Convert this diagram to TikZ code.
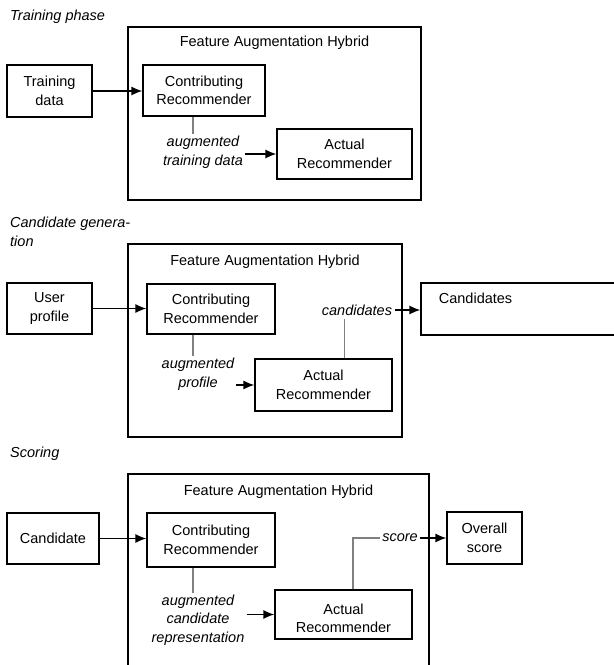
\documentclass[tikz,border=0pt]{standalone}
\usepackage{fontspec}
\setmainfont{Liberation Sans}
\usetikzlibrary{calc,arrows.meta}
% block by its corners: [style]{id}{x1}{y1}{x2}{y2}{text}
\newcommand{\block}[7][]{
  \node[block box,minimum width={(#5-#3)*1pt},minimum height={(#6-#4)*1pt},#1] (#2) at ({(#3+#5)/2},{(#4+#6)/2}) {#7};
}
\newcommand{\hybrid}[6]{
  \block{#1}{#2}{#3}{#4}{#5}{}
  \node[hybrid title] (#1--title) at ($ (#1.north) + (0,#6) $) {Feature Augmentation Hybrid};
}
\begin{document}
\begin{tikzpicture}[
    x=1pt,y=-1pt,
    every node/.style={font=\fontsize{14.5}{18.5}\selectfont},
    block box/.style={draw,line width=1.3pt,inner sep=0pt,align=center},
    hybrid title/.style={inner sep=2pt},
    phase/.style={anchor=west,inner sep=0pt,align=left,font=\fontsize{14.5}{19.5}\selectfont\itshape},
    data label/.style={inner sep=2pt,align=center,font=\fontsize{14.5}{18.5}\selectfont\itshape},
    dependency/.style={-{Latex[length=11pt,width=9pt]},line width=1.3pt},
    feed/.style={gray,line width=1.4pt},
  ]
  \useasboundingbox (0,0) rectangle (614,665);

  % training phase
  \node[phase] (phase-training) at (10,17) {Training phase};
  \hybrid{training}{128}{27}{421}{200}{16}
  \block{training-data}{7}{65}{92}{117}{Training\\data}
  \block{training-contrib}{143}{65}{265}{116}{Contributing\\Recommender}
  \block{training-actual}{277}{129}{412}{179}{Actual\\Recommender}
  \node[data label] (training-aug) at (203,152) {augmented\\training data};

  \draw[dependency] (training-data.east) -- (training-data.east -| training-contrib.west);
  \coordinate (temp) at ($ (training-contrib.south west) ! 0.41 ! (training-contrib.south east) $);
  \draw[feed] (temp) -- (temp |- training-aug.north);
  \draw[dependency] (training-aug.east |- training-actual.west) -- (training-actual.west);

  % candidate generation
  \node[phase] (phase-candgen) at (10,232) {Candidate genera-\\tion};
  \hybrid{candgen}{128}{244}{402}{437}{18}
  \block{candgen-user}{7}{283}{92}{334}{User\\profile}
  \block{candgen-contrib}{147}{284}{275}{334}{Contributing\\Recommender}
  \block{candgen-actual}{255}{359}{392}{411}{Actual\\Recommender}
  \block{candgen-out}{421}{283}{640}{335}{}
  \node[anchor=west] (candgen-out--text) at ($ (candgen-out.north west) + (15,16) $) {Candidates};
  \node[data label] (candgen-aug) at (198,374) {augmented\\profile};
  \node[data label,inner sep=3pt] (candgen-cands) at (357,310) {candidates};

  \draw[dependency] (candgen-user.east) -- (candgen-user.east -| candgen-contrib.west);
  \coordinate (temp) at ($ (candgen-contrib.south west) ! 0.36 ! (candgen-contrib.south east) $);
  \draw[feed] (temp) -- (temp |- candgen-aug.north);
  \draw[dependency] (candgen-aug.east |- candgen-actual.west) -- (candgen-actual.west);
  \coordinate (temp) at ($ (candgen-actual.north west) ! 0.65 ! (candgen-actual.north east) $);
  \draw[feed] (temp) -- (temp |- candgen-cands.south);
  \draw[dependency] (candgen-cands.east) -- (candgen-cands.east -| candgen-out.west);

  % scoring
  \node[phase] (phase-scoring) at (10,454) {Scoring};
  \hybrid{scoring}{128}{474}{429}{680}{18}
  \block{scoring-cand}{7}{513}{99}{564}{Candidate}
  \block{scoring-contrib}{147}{513}{275}{567}{Contributing\\Recommender}
  \block{scoring-actual}{275}{590}{412}{639}{}
  \begin{scope}
    \clip (275,590) rectangle (412,631);
    \node[align=center] (scoring-actual--text) at ($ (scoring-actual.center) + (0,4) $) {Actual\\Recommender};
  \end{scope}
  \block{scoring-overall}{447}{512}{522}{564}{Overall\\score}
  \node[data label] (scoring-aug) at (198,620) {augmented\\candidate\\representation};
  \node[data label] (scoring-score) at (400,538) {score};

  \draw[dependency] (scoring-cand.east) -- (scoring-cand.east -| scoring-contrib.west);
  \coordinate (temp) at ($ (scoring-contrib.south west) ! 0.36 ! (scoring-contrib.south east) $);
  \draw[feed] (temp) -- (temp |- scoring-aug.north);
  \draw[dependency] (scoring-aug.east |- scoring-actual.west) -- (scoring-actual.west);
  \coordinate (temp) at ($ (scoring-actual.north west) ! 0.57 ! (scoring-actual.north east) $);
  \draw[feed] (temp) |- (scoring-score.west);
  \draw[dependency] (scoring-score.east) -- (scoring-score.east -| scoring-overall.west);

\end{tikzpicture}
\end{document}
